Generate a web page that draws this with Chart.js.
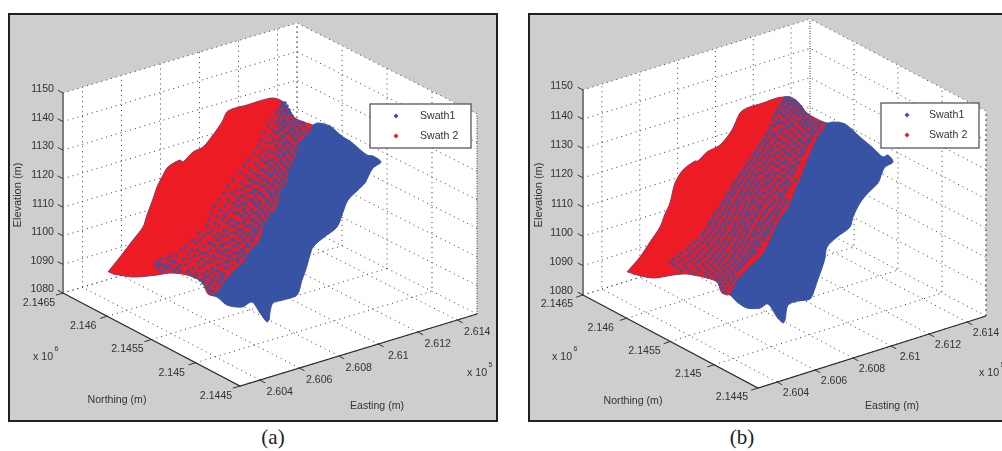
<!DOCTYPE html>
<html><head><meta charset="utf-8">
<script src="https://cdn.jsdelivr.net/npm/chart.js@4"></script>
<style>
html,body{margin:0;padding:0;background:#fff;width:1002px;height:451px;overflow:hidden}
.panel{position:absolute;top:13px;border:2px solid #231f20;background:#cecece;height:405px}
#pa{left:8px;width:486px}
#pb{left:528px;width:472px;border-right:none}
canvas{display:block;filter:blur(0.4px)}
.cap{position:absolute;top:425px;font:21px "Liberation Serif",serif;color:#222;transform:translateX(-50%)}
</style></head><body>
<div class="panel" id="pa"><canvas id="ca" width="486" height="405"></canvas></div>
<div class="panel" id="pb"><canvas id="cb" width="472" height="405"></canvas></div>
<div class="cap" style="left:273px">(a)</div>
<div class="cap" style="left:742px">(b)</div>
<script>
// ---- axis values
const eastingTicks=[2.604,2.606,2.608,2.61,2.612,2.614];
const northingTicks=[2.1445,2.145,2.1455,2.146,2.1465];
const elevationTicks=[1080,1090,1100,1110,1120,1130,1140,1150];
const swathNames=['Swath1','Swath 2'];
const swathColors=['#3953a4','#ed1c24'];
// ---- surface, in view-plane units
const outlineA=[[108,272],[120,257],[133,240],[143,227],[147,215],[150,207],[154,196],[157,187],[162,177],[168,167],[180,160],[183,162],[193,152],[203,147],[213,135],[222,122],[228,111],[247,105],[263,100],[273,98],[282,101],[288,108],[295,118],[304,122],[312,125],[318,123],[330,126],[336,131],[343,137],[350,141],[357,147],[367,155],[373,156],[381,162],[373,168],[368,177],[365,183],[358,190],[348,200],[343,212],[337,227],[323,238],[313,247],[310,255],[308,262],[305,272],[302,280],[297,295],[283,300],[273,303],[270,312],[269,320],[267,322],[260,313],[252,302],[242,307],[227,305],[217,297],[208,294],[202,282],[187,275],[170,273],[157,275],[133,277],[113,274]];
const redA=[[108,272],[120,257],[133,240],[143,227],[147,215],[150,207],[154,196],[157,187],[162,177],[168,167],[180,160],[183,162],[193,152],[203,147],[213,135],[222,122],[228,111],[247,105],[263,100],[273,98],[282,101],[288,108],[295,118],[304,122],[312,125],[306,136],[300,142],[296,155],[289,170],[286,183],[280,192],[277,205],[270,215],[264,224],[259,240],[250,250],[243,262],[232,272],[225,281],[214,294],[208,294],[202,282],[187,275],[170,273],[157,275],[133,277],[113,274]];
const outlineB=[[627,272],[640,257],[650,242],[660,227],[665,214],[670,203],[675,183],[683,170],[695,161],[698,161],[707,152],[720,145],[732,130],[740,113],[747,108],[763,103],[777,98],[790,97],[798,102],[807,113],[817,119],[827,123],[833,122],[845,124],[860,137],[873,148],[883,157],[888,155],[893,162],[885,167],[882,173],[878,183],[868,193],[860,203],[853,217],[850,227],[837,237],[827,247],[825,258],[822,268],[818,279],[815,288],[810,299],[798,301],[788,305],[785,320],[783,323],[777,317],[768,304],[760,308],[747,308],[737,302],[730,295],[722,293],[717,282],[703,277],[687,274],[673,275],[653,278],[633,274]];
const redB=[[627,272],[640,257],[650,242],[660,227],[665,214],[670,203],[675,183],[683,170],[695,161],[698,161],[707,152],[720,145],[732,130],[740,113],[747,108],[763,103],[777,98],[790,97],[798,102],[807,113],[817,119],[825,125],[818,136],[812,148],[807,160],[800,178],[794,192],[788,207],[780,218],[774,230],[768,244],[760,257],[748,268],[737,280],[729,295],[722,293],[717,282],[703,277],[687,274],[673,275],[653,278],[633,274]];
// ---- Swath1 returns seen through Swath 2 in the overlap, one row per line of the picture
const mixA=[[103,[283,285]],[106,[281,284,287]],[110,[279,284,285,289]],[113,[276,282,287,290]],[116,[280,281,286,292]],[120,[271,278,283,284,290,295]],[123,[275,282,287,288,294,299,303]],[126,[268,279,284,285,291,296,297,304]],[130,[273,280,283,290,293,294,300,306]],[133,[264,276,277,286,288,295,301,302]],[136,[270,281,284,292,293,298,305]],[140,[261,274,279,280,287,294,296,303]],[143,[266,271,283,285,289,299,300]],[146,[258,276,277,284,291,292,297]],[150,[263,269,280,282,288,294,295,301]],[153,[254,272,275,283,286,290,297]],[156,[259,266,278,279,284,292,293]],[160,[248,262,270,273,281,287,288,295]],[163,[255,265,268,276,282,283,290]],[166,[244,258,271,272,278,285,286,292]],[170,[250,261,263,269,275,280,288,290]],[173,[240,254,266,267,273,277,283,284]],[176,[246,257,260,270,271,279,285]],[180,[233,249,252,263,266,274,276,282,283]],[183,[241,255,258,268,269,277,280,286]],[186,[228,246,250,261,264,272,273,281]],[190,[237,243,254,256,266,268,275,279]],[193,[224,231,248,252,259,261,270,272,277]],[196,[235,241,244,255,263,264,271,276]],[200,[219,228,238,249,252,258,266,268,273]],[203,[233,242,245,254,260,261,269,274]],[206,[214,225,236,239,247,256,258,265,271]],[210,[220,231,243,244,251,259,262,268]],[213,[211,227,235,238,246,253,256,264,270]],[216,[217,224,241,242,249,258,260,266]],[220,[209,222,230,233,245,251,254,262]],[223,[215,227,237,238,243,256,258,263]],[226,[207,219,232,234,246,249,253,260]],[230,[212,224,226,239,241,252,255,258]],[233,[198,208,218,230,235,236,245,250,256]],[236,[204,214,222,227,240,242,248,254]],[240,[192,200,217,219,232,234,244,251,253]],[243,[196,209,211,224,228,238,240,247]],[246,[186,204,214,220,222,233,236,246,249]],[250,[181,192,198,210,217,226,230,241,243]],[253,[188,201,205,219,223,234,238,245]],[256,[170,176,195,208,213,227,229,240,243]],[259,[161,167,183,190,202,216,221,233,237]],[262,[157,172,175,198,207,211,225,228,238]],[265,[156,160,163,168,180,186,204,218,220,232]],[268,[158,165,166,171,177,193,199,212,225,227]],[271,[162,174,180,188,207,214,218]],[274,[191,197,203,211,221,224]],[277,[195,206,208,216,222]],[280,[200,204,213,218,223]],[283,[203,210,211,219]],[287,[206,208,215]],[291,[209,212]]];
const mixB=[[98,[786,789]],[101,[784,788,792,795]],[104,[782,783,789,793,797]],[107,[780,786,787,794,799,801]],[110,[778,784,790,791,797,802]],[113,[776,781,787,794,795,800,805]],[116,[775,783,785,791,798,803,804,809]],[120,[773,779,788,789,795,801,806,808,813]],[123,[777,781,784,792,799,800,805,811,816,820]],[126,[771,775,786,790,794,803,807,809,814,819]],[130,[770,779,783,788,797,798,805,812,813,818]],[133,[768,774,781,792,793,801,808,810,815]],[136,[766,772,776,785,787,795,803,804,812]],[140,[764,769,777,780,790,792,798,800,807,809,810]],[143,[762,767,775,783,785,794,802,803,808]],[146,[759,765,771,778,788,790,797,799,806]],[150,[757,763,769,773,781,784,792,794,801,804]],[153,[755,760,767,776,779,786,788,796,803]],[156,[753,758,764,770,774,783,790,791,798,801]],[160,[751,757,761,767,777,779,786,794,795]],[163,[748,754,764,771,773,781,784,789,797,799]],[166,[746,752,758,762,768,776,778,787,792,794]],[170,[744,749,755,765,766,772,782,784,790,796]],[173,[741,747,753,759,762,770,776,779,788,793]],[176,[739,745,751,756,766,768,774,783,785,791]],[180,[737,743,749,754,760,764,771,778,780,787,795]],[183,[735,741,746,752,758,767,769,775,784,786,791]],[186,[733,738,745,750,756,761,765,773,780,782,789]],[190,[731,736,742,748,754,759,768,770,777,785,786]],[193,[729,734,741,746,751,757,763,765,774,780,784]],[196,[727,732,739,744,750,755,760,769,771,778,782]],[200,[725,730,737,742,747,753,759,765,767,775,781,786]],[203,[723,729,735,740,746,752,756,763,772,773,779,785]],[206,[721,727,733,738,745,750,757,761,769,770,777,783]],[210,[719,725,730,737,743,748,754,760,766,767,775,780]],[213,[716,723,729,735,741,747,752,757,764,772,773,778]],[216,[714,721,727,733,740,745,749,756,762,769,770,776]],[220,[712,718,725,731,738,743,751,753,760,766,768,774]],[223,[710,716,723,729,735,742,746,752,759,764,771]],[226,[709,715,721,726,734,739,745,750,757,762,768,772]],[230,[706,713,719,725,732,737,744,748,755,761,766,770]],[233,[703,710,717,722,730,735,741,747,753,758,764,768]],[236,[702,708,714,721,727,734,739,745,752,756,762,766]],[240,[697,705,712,718,725,731,738,743,749,755,760,764]],[243,[694,702,709,717,723,729,735,742,747,753,758]],[246,[690,698,707,713,721,727,734,739,745,751,756,760]],[250,[687,695,703,711,718,724,732,737,743,750,754]],[253,[682,691,700,708,715,722,728,735,741,747,752,756]],[256,[678,688,697,705,713,719,726,733,740,745,751]],[259,[674,683,693,701,710,717,723,731,736,743,748]],[262,[671,680,689,698,707,714,721,728,735,741,745]],[265,[674,684,694,703,711,718,725,732,738,742]],[268,[677,686,697,706,714,722,728,735,740]],[271,[681,690,700,709,717,724,731,737]],[274,[694,705,713,720,727,733]],[277,[708,716,723,729,735]],[280,[718,722,728,733]],[284,[720,725,731]],[288,[722,727]],[292,[725]]];

const E0=2.603,E1=2.615,N0=2.1445,N1=2.1465,Z0=1080,Z1=1150;
const viewA={canvas:'ca',x0:8+2,x1:494+2,front:[240,386],right:[477,314],left:[63,293],back:[297,223],h:200,
  outline:outlineA,red:redA,mix:mixA,legend:[370,104,101,44,396,420,116,136],
  zOff:[-9,-3.7],nOff:[-24,10],eOff:[20,12],x6:[33,357],x5:[467,373],north:[117,400],east:[377,406],elev:[18,195]};
const viewB={canvas:'cb',x0:528+2,x1:1002,front:[758,388],right:[986,316],left:[583,295],back:[810,224],h:205,
  outline:outlineB,red:redB,mix:mixB,legend:[881,103,98,45,907,929,115,135],
  zOff:[-10,-3.5],nOff:[-26,9.5],eOff:[19,11],x6:[552,357],x5:[979,373],north:[633,401],east:[892,406],elev:[539,195]};

function project(v,E,N,Z){
  const u=(E-E0)/(E1-E0),w=(N-N0)/(N1-N0);
  const mix=i=>(1-u)*(1-w)*v.front[i]+u*(1-w)*v.right[i]+(1-u)*w*v.left[i]+u*w*v.back[i];
  return {x:mix(0),y:mix(1)-(Z-Z0)/(Z1-Z0)*v.h};
}
const poly=a=>a.map(p=>({x:p[0],y:p[1]}));
function build(v){
  const P=(E,N,Z)=>project(v,E,N,Z);
  const grid=(data)=>({data,showLine:true,pointRadius:0,borderColor:'#3a3a3a',borderWidth:1,borderDash:[1,4],fill:false,tension:0});
  const solid=(data,c,w)=>({data,showLine:true,pointRadius:0,borderColor:c,borderWidth:w,fill:false,tension:0});
  const ds=[];
  ds.push({label:'walls',data:[P(E0,N1,Z0),P(E0,N1,Z1),P(E1,N1,Z1),P(E1,N0,Z1),P(E1,N0,Z0),P(E0,N0,Z0)],showLine:true,pointRadius:0,borderWidth:0,backgroundColor:'#fff',fill:'shape'});
  eastingTicks.forEach(E=>ds.push(grid([P(E,N0,Z0),P(E,N1,Z0),P(E,N1,Z1)])));
  northingTicks.forEach(N=>ds.push(grid([P(E0,N,Z0),P(E1,N,Z0),P(E1,N,Z1)])));
  elevationTicks.forEach(Z=>ds.push(grid([P(E0,N1,Z),P(E1,N1,Z),P(E1,N0,Z)])));
  ds.push(grid([P(E1,N1,Z0),P(E1,N1,Z1)]));
  ds.push(grid([P(E1,N0,Z0),P(E1,N0,Z1)]));
  ds.push(solid([P(E0,N1,Z0),P(E0,N1,Z1)],'#7d7d7d',2));
  ds.push(solid([P(E0,N1,Z0),P(E0,N0,Z0),P(E1,N0,Z0)],'#2b2b2b',1.2));
  const dN=(N1-N0)*0.03,dE=(E1-E0)*0.03;
  elevationTicks.forEach(Z=>ds.push(solid([P(E0,N1,Z),P(E0,N1+dN,Z)],'#333',1)));
  northingTicks.forEach(N=>ds.push(solid([P(E0,N,Z0),P(E0-dE,N,Z0)],'#333',1)));
  eastingTicks.forEach(E=>ds.push(solid([P(E,N0,Z0),P(E,N0-dN,Z0)],'#333',1)));
  ds.push({label:swathNames[0],data:poly(v.outline),showLine:true,pointRadius:0,borderColor:swathColors[0],borderWidth:1,backgroundColor:swathColors[0],fill:'shape',tension:0.3});
  ds.push({label:swathNames[1],data:poly(v.red),showLine:true,pointRadius:0,borderWidth:0,backgroundColor:swathColors[1],fill:'shape',tension:0.3});
  const pts=[];v.mix.forEach(r=>r[1].forEach(x=>pts.push({x,y:r[0]})));
  ds.push({label:swathNames[0]+' overlap',data:pts,showLine:false,pointRadius:1.8,pointBorderWidth:0,pointBackgroundColor:swathColors[0]});
  return ds.reverse();
}
function labels(v){return {id:'labels',afterDatasetsDraw(chart){
  const c=chart.ctx,X=chart.scales.x,Y=chart.scales.y;
  const px=(a,b)=>[X.getPixelForValue(a),Y.getPixelForValue(b)];
  const font='10.6px "Liberation Sans",sans-serif';
  const T=(s,a,b,al,f)=>{const p=px(a,b);c.font=f||font;c.textAlign=al||'center';c.textBaseline='middle';c.fillStyle='#333';c.fillText(s,p[0],p[1]);};
  c.save();
  elevationTicks.forEach(Z=>{const p=project(v,E0,N1,Z);T(String(Z),p.x+v.zOff[0],p.y+v.zOff[1],'right');});
  northingTicks.forEach(N=>{const p=project(v,E0,N,Z0);T(String(N),p.x+v.nOff[0],p.y+v.nOff[1]);});
  eastingTicks.forEach(E=>{const p=project(v,E,N0,Z0);T(String(E),p.x+v.eOff[0],p.y+v.eOff[1]);});
  T('x 10',v.x6[0],v.x6[1],'left');T('6',v.x6[0]+21.5,v.x6[1]-8,'left','7px "Liberation Sans",sans-serif');
  T('x 10',v.x5[0],v.x5[1],'left');T('5',v.x5[0]+21.5,v.x5[1]-8,'left','7px "Liberation Sans",sans-serif');
  T('Northing (m)',v.north[0],v.north[1]);T('Easting (m)',v.east[0],v.east[1]);
  const e=px(v.elev[0],v.elev[1]);c.save();c.translate(e[0],e[1]);c.rotate(-Math.PI/2);c.font='11px "Liberation Sans",sans-serif';c.textAlign='center';c.textBaseline='middle';c.fillStyle='#333';c.fillText('Elevation (m)',0,0);c.restore();
  const L=v.legend,tl=px(L[0],L[1]);
  c.fillStyle='#fff';c.fillRect(tl[0],tl[1],L[2],L[3]);c.strokeStyle='#4a4a4a';c.lineWidth=1.2;c.strokeRect(tl[0],tl[1],L[2],L[3]);
  swathNames.forEach((s,i)=>{const p=px(L[4],L[6+i]);c.fillStyle=swathColors[i];c.beginPath();c.moveTo(p[0],p[1]-2.5);c.lineTo(p[0]+2.5,p[1]);c.lineTo(p[0],p[1]+2.5);c.lineTo(p[0]-2.5,p[1]);c.fill();T(s,L[5],L[6+i],'left');});
  c.restore();
}};}
[viewA,viewB].forEach(v=>{
  new Chart(document.getElementById(v.canvas),{type:'scatter',data:{datasets:build(v)},plugins:[labels(v)],
    options:{responsive:false,animation:false,devicePixelRatio:1,events:[],layout:{padding:0,autoPadding:false},
      plugins:{legend:{display:false},tooltip:{enabled:false},title:{display:false}},
      scales:{x:{type:'linear',display:false,min:v.x0,max:v.x1},y:{type:'linear',display:false,reverse:true,min:15,max:420}}}});
});
</script>
</body></html>
